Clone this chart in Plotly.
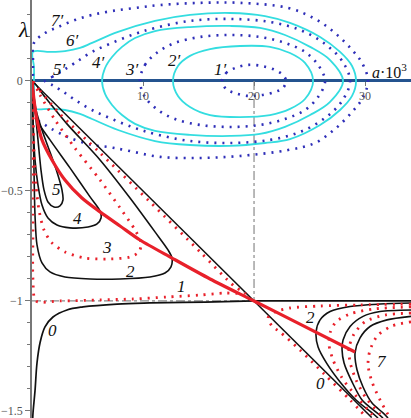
import plotly.graph_objects as go

# ---- phase curves, upper part (a*10^3 vs lambda) ----
# cyan solid orbits
cyan_a_a = [12.70, 13.15, 14.23, 16.04, 18.74, 21.44, 23.24, 24.59, 25.32, 24.59, 23.24, 21.44, 18.74, 16.04, 14.23, 13.15, 12.70]
cyan_a_l = [0, 0.068, 0.114, 0.145, 0.159, 0.155, 0.127, 0.082, 0, -0.082, -0.127, -0.155, -0.164, -0.155, -0.118, -0.068, 0]

cyan_b_a = [6.31, 6.58, 7.21, 8.11, 9.28, 11.08, 14.23, 17.84, 20.54, 22.79, 25.05, 26.85, 28.02, 26.85, 25.05, 22.79, 20.54, 17.84, 14.23, 11.08, 9.28, 8.11, 7.21, 6.58, 6.31]
cyan_b_l = [0, 0.059, 0.109, 0.155, 0.195, 0.227, 0.245, 0.25, 0.241, 0.209, 0.155, 0.095, 0, -0.095, -0.155, -0.209, -0.241, -0.25, -0.245, -0.227, -0.195, -0.155, -0.109, -0.059, 0]

cyan_c_a = [0.09, 1.62, 2.97, 4.32, 5.41, 7.75, 11.08, 14.23, 17.84, 20.99, 23.24, 25.95, 27.75, 28.83, 29.19, 28.83, 27.75, 25.95, 23.24, 20.99, 17.84, 14.23, 11.08, 7.75, 5.41, 4.32, 2.97, 1.62, 0.09, 0.18, 0.18, 0.18, 0.09]
cyan_c_l = [0.132, 0.132, 0.136, 0.15, 0.173, 0.223, 0.273, 0.30, 0.309, 0.295, 0.264, 0.2, 0.132, 0.068, 0, -0.068, -0.132, -0.2, -0.264, -0.282, -0.295, -0.291, -0.273, -0.223, -0.173, -0.15, -0.132, -0.127, -0.123, -0.064, 0, 0.064, 0.132]

# blue dotted orbits
dot1_a = [17.12, 17.48, 18.29, 19.46, 20.72, 21.89, 22.61, 22.88, 22.61, 21.89, 20.72, 19.46, 18.29, 17.48, 17.12]
dot1_l = [0, 0.036, 0.059, 0.073, 0.068, 0.05, 0.027, 0, -0.032, -0.05, -0.064, -0.068, -0.055, -0.036, 0]

dot3_a = [9.73, 10.18, 11.35, 12.88, 15.14, 17.84, 20.54, 22.79, 24.59, 25.77, 26.40, 25.77, 24.59, 22.79, 20.54, 17.84, 15.14, 12.88, 11.35, 10.18, 9.73]
dot3_l = [0, 0.073, 0.132, 0.173, 0.2, 0.209, 0.2, 0.173, 0.132, 0.073, 0, -0.073, -0.132, -0.173, -0.2, -0.209, -0.2, -0.173, -0.132, -0.073, 0]

dot5_a = [1.17, 1.80, 2.70, 3.87, 5.41, 7.21, 9.28, 11.08, 14.23, 17.84, 21.44, 24.14, 26.40, 27.93, 28.65, 27.93, 26.40, 24.14, 21.44, 17.84, 14.23, 11.08, 9.28, 7.21, 5.41, 3.87, 2.70, 1.80, 1.17]
dot5_l = [0, 0.018, 0.045, 0.082, 0.132, 0.173, 0.214, 0.241, 0.273, 0.282, 0.268, 0.232, 0.168, 0.091, 0, -0.091, -0.168, -0.232, -0.268, -0.282, -0.273, -0.241, -0.214, -0.173, -0.132, -0.086, -0.045, -0.018, 0]

dot7_a = [0.09, 0.09, 0.09, 0.09, 0.18, 1.17, 2.34, 3.87, 5.41, 7.21, 9.28, 11.53, 15.14, 18.74, 23.06, 25.50, 27.30, 28.83, 29.73, 30.27, 29.73, 28.83, 27.30, 25.50, 23.06, 18.74, 15.14, 11.53, 8.38, 6.85, 5.41, 3.24, 1.62, 0.72, 0.09]
dot7_l = [-0.173, -0.086, 0, 0.086, 0.173, 0.218, 0.245, 0.277, 0.30, 0.318, 0.332, 0.345, 0.355, 0.355, 0.332, 0.282, 0.218, 0.141, 0.082, 0, -0.082, -0.141, -0.218, -0.282, -0.314, -0.341, -0.35, -0.345, -0.314, -0.3, -0.291, -0.255, -0.214, -0.186, -0.173]

# ---- lower part: loops from the origin ----
loop1_a = [0, 0.72, 2.52, 6.13, 10.63, 15.14, 18.29, 19.19, 17.39, 15.14, 12.16, 9.10, 6.13, 2.52, 0.36, 0.09, 0.09, 0.09, 0.09, 0]
loop1_l = [0, -0.045, -0.15, -0.327, -0.55, -0.777, -0.936, -0.964, -0.964, -0.973, -0.982, -0.991, -0.995, -1.0, -1.0, -0.905, -0.677, -0.405, -0.177, 0]

loop2_a = [0, 1.17, 3.15, 6.13, 8.83, 11.08, 12.25, 12.61, 12.52, 11.98, 10.63, 7.93, 5.23, 2.97, 1.62, 0.90, 0.45, 0.27, 0.18, 0.09, 0]
loop2_l = [0, -0.073, -0.195, -0.359, -0.532, -0.686, -0.768, -0.805, -0.845, -0.873, -0.891, -0.9, -0.9, -0.891, -0.868, -0.827, -0.745, -0.609, -0.405, -0.177, 0]

loop3_a = [0, 0.72, 2.07, 3.87, 6.13, 7.93, 9.28, 9.82, 9.64, 8.83, 7.03, 4.77, 2.97, 1.80, 1.08, 0.63, 0.36, 0.18, 0.09, 0]
loop3_l = [0, -0.064, -0.177, -0.305, -0.45, -0.577, -0.677, -0.736, -0.777, -0.8, -0.809, -0.805, -0.777, -0.736, -0.677, -0.586, -0.473, -0.314, -0.155, 0]

loop4_a = [0, 0.18, 0.54, 1.62, 3.42, 5.23, 6.13, 6.22, 5.86, 5.05, 3.42, 2.25, 1.44, 0.90, 0.54, 0.27, 0.09, 0]
loop4_l = [0, -0.109, -0.186, -0.268, -0.395, -0.527, -0.591, -0.623, -0.65, -0.664, -0.668, -0.655, -0.623, -0.564, -0.473, -0.359, -0.177, 0]

loop5_a = [0, 0.36, 0.90, 1.62, 2.25, 2.70, 2.79, 2.52, 1.98, 1.44, 1.08, 0.81, 0.54, 0.27, 0]
loop5_l = [0, -0.132, -0.223, -0.323, -0.414, -0.495, -0.541, -0.568, -0.573, -0.55, -0.495, -0.405, -0.268, -0.132, 0]

# thick red line through the tips
tips_a = [0, 0.18, 0.45, 0.9, 1.8, 2.97, 4.5, 6.13, 7.93, 9.73, 12.61, 16.04, 20, 24.14, 29.1]
tips_l = [0, -0.086, -0.177, -0.268, -0.359, -0.45, -0.532, -0.595, -0.659, -0.723, -0.805, -0.9, -1.0, -1.105, -1.232]

# curve 0
zero_left_a = [0.05, 0.09, 0.27, 0.45, 0.72, 1.17, 1.89, 3.15, 4.59, 7.66, 10.63, 15.59, 20]
zero_left_l = [-1.55, -1.509, -1.409, -1.282, -1.191, -1.118, -1.073, -1.041, -1.027, -1.014, -1.009, -1.005, -1.0]
zero_diag_a = [0, 20, 30.6]
zero_diag_l = [0, -1, -1.53]
zero_flat_a = [20, 34.3]
zero_flat_l = [-1, -1]

# right family
r1_a = [34.14, 29.55, 25.95, 23.24, 21.89, 21.26, 21.62, 22.34, 24.14, 26.40, 28.65, 30.18]
r1_l = [-1.014, -1.018, -1.023, -1.032, -1.05, -1.077, -1.114, -1.141, -1.223, -1.336, -1.45, -1.532]
r2_a = [34.14, 31.35, 28.65, 26.85, 25.95, 25.59, 25.77, 26.58, 27.75, 29.19, 30.63, 31.17]
r2_l = [-1.009, -1.014, -1.025, -1.048, -1.086, -1.141, -1.209, -1.286, -1.368, -1.45, -1.509, -1.532]
r3_a = [34.14, 30.9, 28.65, 27.39, 26.85, 26.76, 27.12, 27.93, 29.1, 30.27, 30.9]
r3_l = [-1.027, -1.036, -1.059, -1.095, -1.145, -1.2, -1.268, -1.35, -1.427, -1.495, -1.532]
r4_a = [34.14, 31.35, 29.82, 28.65, 28.02, 27.93, 28.11, 28.83, 29.73, 31.08, 31.62]
r4_l = [-1.041, -1.048, -1.07, -1.116, -1.177, -1.223, -1.282, -1.368, -1.45, -1.509, -1.532]
r5_a = [34.14, 31.8, 30, 29.01, 28.56, 28.65, 29.19, 30.09, 31.35, 31.71]
r5_l = [-1.055, -1.064, -1.095, -1.15, -1.214, -1.277, -1.359, -1.441, -1.514, -1.532]
r6_a = [34.14, 31.98, 30.45, 29.55, 29.1, 29.28, 29.82, 30.63, 31.62, 32.07]
r6_l = [-1.07, -1.086, -1.116, -1.168, -1.236, -1.314, -1.391, -1.464, -1.509, -1.532]
r7_a = [34.14, 32.43, 31.17, 30.45, 30.27, 30.63, 31.35, 32.25]
r7_l = [-1.095, -1.114, -1.155, -1.223, -1.291, -1.368, -1.45, -1.532]

# guide lines
guide_a = 20
guide_l = -1

# curve labels
prime_text = ["7′", "6′", "5′", "4′", "3′", "2′", "1′"]
prime_a = [2.34, 3.69, 2.52, 5.95, 9.01, 12.88, 16.94]
prime_l = [0.277, 0.186, 0.05, 0.086, 0.05, 0.095, 0.05]
num_text = ["0", "1", "2", "3", "4", "5", "2", "7", "0"]
num_a = [1.89, 13.51, 8.83, 6.76, 4.14, 2.25, 25.05, 31.53, 25.95]
num_l = [-1.132, -0.936, -0.868, -0.755, -0.623, -0.495, -1.077, -1.277, -1.373]

CYAN = '#34dde0'
NAVY = '#2e2eb8'
RED = '#e8202a'
BLACK = '#111111'
DOTS = '2px,6px'

fig = go.Figure()


def curve(a, lam, color, width, dash='solid', shape='spline', smoothing=1.0):
    fig.add_trace(go.Scatter(x=a, y=lam, mode='lines', hoverinfo='skip', showlegend=False,
                             line=dict(color=color, width=width, dash=dash, shape=shape, smoothing=smoothing)))


# guides
curve([guide_a, guide_a], [0, guide_l], '#8a8a8a', 1.2, dash='dashdot', shape='linear')
curve([0, guide_a], [guide_l, guide_l], '#8a8a8a', 1.2, dash='dashdot', shape='linear')

# upper orbits
for ca, cl in [(cyan_a_a, cyan_a_l), (cyan_b_a, cyan_b_l), (cyan_c_a, cyan_c_l)]:
    curve(ca, cl, CYAN, 1.8)
for da, dl in [(dot1_a, dot1_l), (dot3_a, dot3_l), (dot5_a, dot5_l), (dot7_a, dot7_l)]:
    curve(da, dl, NAVY, 2.6, dash=DOTS)

# lower curves
curve(zero_left_a, zero_left_l, BLACK, 1.7)
curve(zero_diag_a, zero_diag_l, BLACK, 1.5, shape='linear')
curve(zero_flat_a, zero_flat_l, BLACK, 1.7, shape='linear')
for la, ll in [(loop2_a, loop2_l), (loop4_a, loop4_l), (loop5_a, loop5_l),
               (r2_a, r2_l), (r4_a, r4_l), (r6_a, r6_l)]:
    curve(la, ll, BLACK, 1.6, smoothing=0.8)
for la, ll in [(loop1_a, loop1_l), (loop3_a, loop3_l),
               (r1_a, r1_l), (r3_a, r3_l), (r5_a, r5_l), (r7_a, r7_l)]:
    curve(la, ll, RED, 2.8, dash=DOTS, smoothing=0.8)
curve(tips_a, tips_l, RED, 3.2, smoothing=0.8)

serif = 'Liberation Serif'
for t, x, y in zip(prime_text + num_text, prime_a + num_a, prime_l + num_l):
    fig.add_annotation(x=x, y=y, text='<i>' + t + '</i>', showarrow=False,
                       font=dict(family=serif, size=17, color='#111'))

# axis names
fig.add_annotation(xref='paper', yref='paper', x=-0.042, y=0.965, text='<i>λ</i>', showarrow=False,
                   font=dict(family=serif, size=22, color='#111'))
fig.add_annotation(x=34.0, y=0.045, xanchor='right', text='<i>a</i>·10<sup>3</sup>',
                   showarrow=False, font=dict(family=serif, size=16, color='#111'))

fig.update_layout(
    width=411, height=418, autosize=False,
    margin=dict(l=32, r=0, t=0, b=0),
    plot_bgcolor='white', paper_bgcolor='white',
    showlegend=False,
    xaxis=dict(range=[0, 34.14], anchor='free', position=1 - 81 / 418,
               tickvals=[10, 20, 30], ticks='outside', ticklen=4, tickcolor='#777',
               tickfont=dict(family=serif, size=12, color='#555'),
               showgrid=False, zeroline=False, showline=False),
    yaxis=dict(range=[-1.532, 0.368], tick0=0, dtick=0.5, ticks='outside', ticklen=5,
               tickcolor='#777', tickfont=dict(family=serif, size=12, color='#555'),
               ticklabeloverflow='allow',
               minor=dict(dtick=0.1, tick0=0, ticks='outside', ticklen=3, tickcolor='#777'),
               showline=True, linecolor='#777', linewidth=1.5,
               showgrid=False, zeroline=True, zerolinecolor='#24538f', zerolinewidth=2.5),
)

fig.write_html("out.html", config={'displayModeBar': False},
               post_script="document.body.style.margin='0px';")
